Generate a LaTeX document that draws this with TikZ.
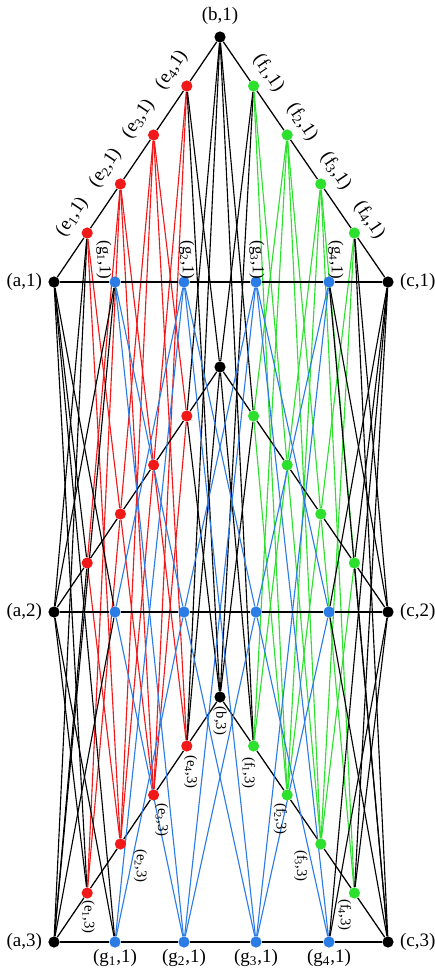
\documentclass[tikz,border=0pt]{standalone}
\usepackage{fontspec}
\setmainfont{Liberation Serif}
\usepackage{tikz}
\usetikzlibrary{calc,positioning,backgrounds}
\definecolor{redv}{HTML}{F01818}
\definecolor{greenv}{HTML}{2EE02E}
\definecolor{bluev}{HTML}{2C7CE6}

\begin{document}
\begin{tikzpicture}[x=0.25mm, y=-0.25mm, every node/.style={font=\fontsize{13.5}{15}\selectfont,inner sep=0pt}, vtx/.style={circle,fill=black,minimum size=2.8mm}, edge/.style={line width=0.8pt}, side/.style={line width=0.9pt,draw=black}, small/.style={font=\fontsize{10.5}{12}\selectfont,rotate=-90}, mid/.style={font=\fontsize{12}{13}\selectfont,rotate=-90}]
\useasboundingbox (0,0) rectangle (435,969);
% three copies of the cycle, one per level
\foreach \L/\dy in {1/0,2/330,3/660} {
  \node[vtx] (a-\L) at (54,282+\dy) {};
  \node[vtx] (b-\L) at (220,37+\dy) {};
  \node[vtx] (c-\L) at (388,282+\dy) {};
  \foreach \i in {1,...,4} {
    \node[vtx,fill=redv] (e\i-\L) at ($(a-\L)!\i/5!(b-\L)$) {};
    \node[vtx,fill=greenv] (f\i-\L) at ($(b-\L)!\i/5!(c-\L)$) {};
  }
  \foreach \i/\x in {1/115,2/184,3/256,4/329}
    \node[vtx,fill=bluev] (g\i-\L) at (\x,282+\dy) {};
  \node[left=1.5mm of a-\L] (la-\L) {(a,\L)};
  \node[right=1.5mm of c-\L] (lc-\L) {(c,\L)};
}
% edges: cycle inside a level, cross edges between levels
\begin{scope}[on background layer]
\foreach \u/\w/\col in {a/e1/black, e1/e2/redv, e2/e3/redv, e3/e4/redv, e4/b/black, b/f1/black, f1/f2/greenv, f2/f3/greenv, f3/f4/greenv, f4/c/black, c/g4/black, g4/g3/bluev, g3/g2/bluev, g2/g1/bluev, g1/a/black} {
  \foreach \i/\j in {1/2,1/3,2/1,2/3,3/1,3/2}
    \draw[edge,draw=\col] (\u-\i) -- (\w-\j);
  \foreach \i in {1,2,3}
    \draw[side] (\u-\i) -- (\w-\i);
}
\end{scope}
% labels
\node[above=1.5mm of b-1] (lb-1) {(b,1)};
\foreach \i in {1,...,4} {
  \node[rotate=56] (le\i-1) at ($(e\i-1)+(-15,-16)$) {(e\textsubscript{\i},1)};
  \node[rotate=-56] (lf\i-1) at ($(f\i-1)+(15,-13)$) {(f\textsubscript{\i},1)};
  \node[below=0.3mm of g\i-3] (lg\i-3) {(g\textsubscript{\i},1)};
}
\foreach \i/\dx in {1/-11,2/3,3/1,4/7}
  \node[mid] (lg\i-1) at ($(g\i-1)+(\dx,-22)$) {(g\textsubscript{\i},1)};
\node[small] (lb-3) at ($(b-3)+(0,24)$) {(b,3)};
\foreach \i/\dx/\dy in {1/1/24,2/20/22,3/8/25,4/4/26}
  \node[small] (le\i-3) at ($(e\i-3)+(\dx,\dy)$) {(e\textsubscript{\i},3)};
\foreach \i/\dx/\dy in {1/-5/27,2/-7/24,3/-20/22,4/-10/22}
  \node[small] (lf\i-3) at ($(f\i-3)+(\dx,\dy)$) {(f\textsubscript{\i},3)};
\end{tikzpicture}
\end{document}
